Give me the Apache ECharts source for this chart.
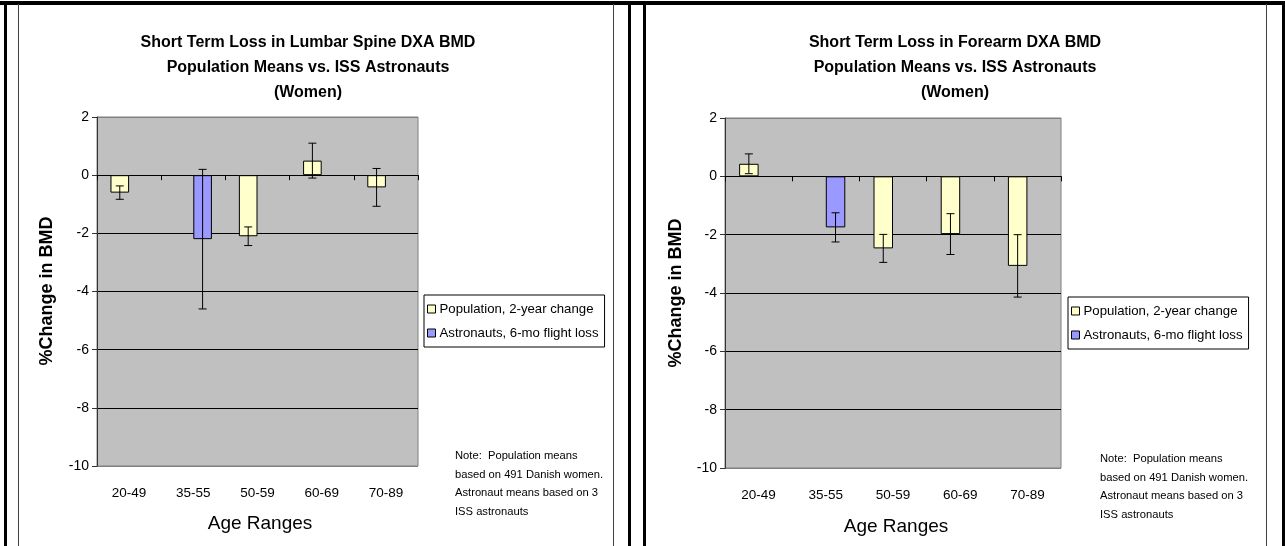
<!DOCTYPE html>
<html>
<head>
<meta charset="utf-8">
<script src="https://cdn.jsdelivr.net/npm/echarts@6/dist/echarts.min.js"></script>
<style>
html,body{margin:0;padding:0;background:#fff;}
#chart{width:1285px;height:546px;}
</style>
</head>
<body>
<div id="chart"></div>
<script>
// ---- data ----
const categories = ['20-49', '35-55', '50-59', '60-69', '70-89'];
const yTickMin = -10, yTickMax = 2, yTickStep = 2;

const lumbarPop      = [-0.6, null, -2.1, 0.5, -0.42];
const lumbarPopErr   = [0.23, null, 0.32, 0.6, 0.65];
const lumbarAstro    = [null, -2.2, null, null, null];
const lumbarAstroErr = [null, 2.4, null, null, null];

const forearmPop      = [0.43, null, -2.47, -1.98, -3.07];
const forearmPopErr   = [0.34, null, 0.48, 0.7, 1.07];
const forearmAstro    = [null, -1.75, null, null, null];
const forearmAstroErr = [null, 0.5, null, null, null];

const popName = 'Population, 2-year change';
const astroName = 'Astronauts, 6-mo flight loss';
const titlesLeft = ['Short Term Loss in Lumbar Spine DXA BMD', 'Population Means vs. ISS Astronauts', '(Women)'];
const titlesRight = ['Short Term Loss in Forearm DXA BMD', 'Population Means vs. ISS Astronauts', '(Women)'];
const noteLines = ['Note:  Population means', 'based on 491 Danish women.', 'Astronaut means based on 3', 'ISS astronauts'];

// ---- chart ----
const FF = '"Liberation Sans", Arial, sans-serif';
const chart = echarts.init(document.getElementById('chart'), null, {renderer: 'canvas'});

const POP_COLOR = '#FFFFCC', ASTRO_COLOR = '#9999FF';
const BAR_GAP_CAT = 0.42; // fraction of category left empty

function errData(vals, errs) {
  const out = [];
  vals.forEach((v, i) => { if (v != null && errs[i] != null) out.push([i, v, errs[i]]); });
  return out;
}

function errSeries(gridIdx, vals, errs, slot) {
  return {
    type: 'custom',
    xAxisIndex: gridIdx * 2,
    yAxisIndex: gridIdx,
    z: 10,
    silent: true,
    data: errData(vals, errs),
    encode: {x: 0, y: 1},
    renderItem: function (params, api) {
      const i = api.value(0), v = api.value(1), e = api.value(2);
      const w = api.size([1, 0])[0];
      const barW = w * (1 - BAR_GAP_CAT) / 2;
      const cx = api.coord([i, v])[0] + slot * barW / 2;
      const yTop = api.coord([i, v + e])[1];
      const yBot = api.coord([i, v - e])[1];
      const cap = 4;
      const st = {stroke: '#000', lineWidth: 1};
      return {
        type: 'group',
        children: [
          {type: 'line', shape: {x1: cx, y1: yTop, x2: cx, y2: yBot}, style: st},
          {type: 'line', shape: {x1: cx - cap, y1: yTop, x2: cx + cap, y2: yTop}, style: st},
          {type: 'line', shape: {x1: cx - cap, y1: yBot, x2: cx + cap, y2: yBot}, style: st}
        ]
      };
    }
  };
}

function gridDef(left, top, width, height) {
  return {left: left, top: top, width: width, height: height, show: true,
          backgroundColor: '#C0C0C0', borderColor: '#808080', borderWidth: 1, containLabel: false};
}

function xAxes(gridIdx) {
  return [
    {
      type: 'category', gridIndex: gridIdx, data: categories, position: 'bottom',
      axisLine: {show: false, onZero: false},
      axisTick: {show: false},
      axisLabel: {show: true, color: '#000', fontSize: 13.5, fontFamily: FF, margin: 20},
      splitLine: {show: false}
    },
    {
      type: 'category', gridIndex: gridIdx, data: categories, position: 'bottom',
      axisLine: {show: true, onZero: true, lineStyle: {color: '#000', width: 1}},
      axisTick: {show: true, inside: false, length: 5, lineStyle: {color: '#000'}},
      axisLabel: {show: false},
      splitLine: {show: false}
    }
  ];
}

function yAxisDef(gridIdx) {
  return {
    type: 'value', gridIndex: gridIdx, min: yTickMin, max: yTickMax, interval: yTickStep,
    axisLine: {show: true, lineStyle: {color: '#333', width: 1}},
    axisTick: {show: true, inside: false, length: 5, lineStyle: {color: '#333'}},
    axisLabel: {color: '#000', fontSize: 14, fontFamily: FF, margin: 8},
    splitLine: {show: true, lineStyle: {color: ['#808080', '#000', '#000', '#000', '#000', '#000', '#808080'], width: 1}}
  };
}

function barSeries(gridIdx, name, data, color) {
  return {
    type: 'bar', name: name, xAxisIndex: gridIdx * 2, yAxisIndex: gridIdx,
    data: data, barGap: '0%', barCategoryGap: (BAR_GAP_CAT * 100) + '%',
    itemStyle: {color: color, borderColor: '#000', borderWidth: 1},
    emphasis: {disabled: true},
    z: 3
  };
}

function legendDef(left, top) {
  return {
    left: left, top: top, orient: 'vertical',
    data: [{name: popName}, {name: astroName}],
    backgroundColor: '#fff', borderColor: '#000', borderWidth: 1,
    padding: [6, 6, 6, 3],
    itemWidth: 8, itemHeight: 8, itemGap: 8, icon: 'rect',
    selectedMode: false,
    itemStyle: {borderColor: '#000', borderWidth: 1},
    textStyle: {color: '#000', fontSize: 13.2, fontFamily: FF, lineHeight: 16, padding: [0, 0, 0, -1]}
  };
}

function textEl(text, x, y, size, weight, align, rotation) {
  return {
    type: 'text', x: x, y: y, rotation: rotation || 0, z: 20,
    style: {text: text, fontSize: size, fontWeight: weight || 'normal', fontFamily: FF,
            fill: '#000', textAlign: align || 'center', textVerticalAlign: 'middle'}
  };
}

function rectEl(x, y, w, h, color) {
  return {type: 'rect', shape: {x: x, y: y, width: w, height: h}, style: {fill: color}, z: 30, silent: true};
}

const graphics = [];
// frames
graphics.push(rectEl(0, 1, 1285, 4, '#000'));
graphics.push(rectEl(4, 1, 3, 545, '#000'));
graphics.push(rectEl(18, 4, 1, 542, '#404040'));
graphics.push(rectEl(613, 4, 1, 542, '#404040'));
graphics.push(rectEl(628, 1, 3, 545, '#000'));
graphics.push(rectEl(643, 1, 3, 545, '#000'));
graphics.push(rectEl(1266, 4, 1, 542, '#404040'));
graphics.push(rectEl(1282, 1, 3, 545, '#000'));
// titles
[[titlesLeft, 308], [titlesRight, 955]].forEach(([lines, cx]) => {
  lines.forEach((t, k) => graphics.push(textEl(t, cx, 43 + k * 25, 16, 'bold')));
});
// axis titles
graphics.push(textEl('%Change in BMD', 47, 291, 18, 'bold', 'center', Math.PI / 2));
graphics.push(textEl('%Change in BMD', 676, 293, 18, 'bold', 'center', Math.PI / 2));
graphics.push(textEl('Age Ranges', 260, 524, 19, 'normal'));
graphics.push(textEl('Age Ranges', 896, 527, 19, 'normal'));
// notes
noteLines.forEach((t, k) => {
  graphics.push(textEl(t, 455, 456 + k * 18.5, 11.2, 'normal', 'left'));
  graphics.push(textEl(t, 1100, 459 + k * 18.5, 11.2, 'normal', 'left'));
});

const option = {
  animation: false,
  backgroundColor: '#fff',
  grid: [gridDef(97, 117, 321, 349), gridDef(725, 118, 336, 350)],
  xAxis: [...xAxes(0), ...xAxes(1)],
  yAxis: [yAxisDef(0), yAxisDef(1)],
  legend: [legendDef(424, 295), legendDef(1068, 297)],
  series: [
    barSeries(0, popName, lumbarPop, POP_COLOR),
    barSeries(0, astroName, lumbarAstro, ASTRO_COLOR),
    errSeries(0, lumbarPop, lumbarPopErr, -1),
    errSeries(0, lumbarAstro, lumbarAstroErr, 1),
    barSeries(1, popName, forearmPop, POP_COLOR),
    barSeries(1, astroName, forearmAstro, ASTRO_COLOR),
    errSeries(1, forearmPop, forearmPopErr, -1),
    errSeries(1, forearmAstro, forearmAstroErr, 1)
  ],
  graphic: graphics
};
chart.setOption(option);
</script>
</body>
</html>
